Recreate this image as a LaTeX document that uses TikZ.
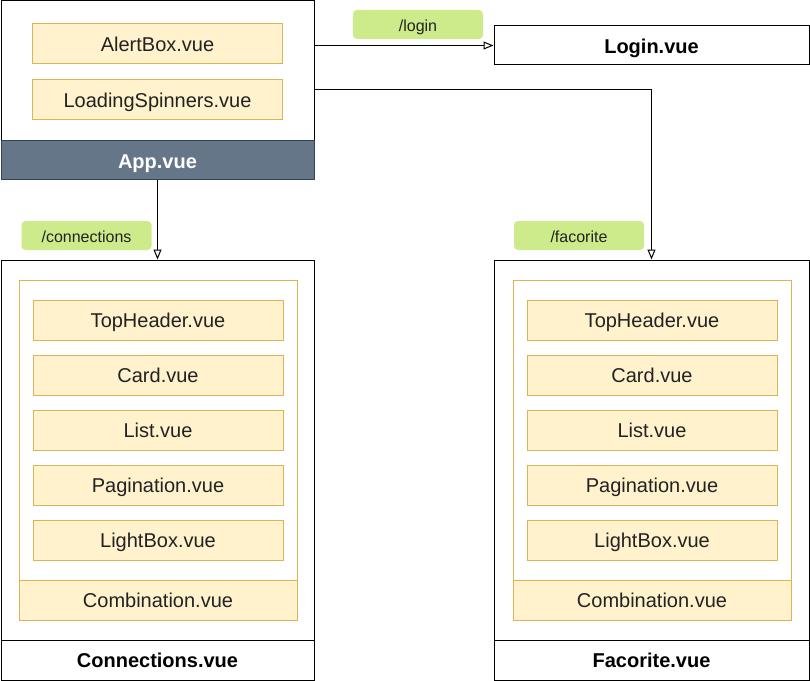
\documentclass[tikz,border=0pt]{standalone}
\usepackage{fontspec}
\setmainfont{Liberation Sans}
\usepackage{tikz}
\usetikzlibrary{arrows.meta}

\begin{document}
\begin{tikzpicture}[x=0.75pt,y=-0.75pt,
  frame/.style={draw=black,fill=white,line width=0.75pt,inner sep=0pt},
  group/.style={draw=itemdraw,fill=white,line width=0.75pt,inner sep=0pt,
    minimum width=208.5pt,minimum height=255pt},
  item/.style={draw=itemdraw,fill=itemfill,line width=0.75pt,inner sep=0pt,
    minimum width=187.5pt,minimum height=30pt,text=textcolor,
    text height=1.2em,text depth=0.06em,font=\fontsize{15}{18}\selectfont},
  combo/.style={item,minimum width=208.5pt},
  title/.style={frame,minimum height=29.25pt,text height=1.2em,text depth=0.06em,
    font=\fontsize{15}{18}\selectfont\bfseries},
  route/.style={fill=routefill,rounded corners=3pt,inner sep=0pt,
    minimum width=97.5pt,minimum height=21.75pt,text=textcolor,
    text height=1.1em,text depth=0.06em,font=\fontsize{12}{14}\selectfont},
  link/.style={draw=black,line width=0.75pt,-{Triangle[open,length=7.5pt,width=6pt]}}]
\definecolor{itemfill}{RGB}{255,242,204}
\definecolor{itemdraw}{RGB}{214,182,86}
\definecolor{routefill}{RGB}{205,235,139}
\definecolor{headfill}{RGB}{100,118,135}
\definecolor{headdraw}{RGB}{49,67,84}
\definecolor{textcolor}{RGB}{34,34,34}
\useasboundingbox (0,0) rectangle (810,681);
% App
\node[frame,minimum width=234.75pt,minimum height=134.25pt] (app) at (157.5,90.5) {};
\node[item] (alert) at (157.5,44) {AlertBox.vue};
\node[item] (loading) at (157.5,100) {LoadingSpinners.vue};
\node[title,fill=headfill,draw=headdraw,text=white,minimum width=234.75pt] (apphead) at (157.5,160.5) {App.vue};
% Login
\node[title,minimum width=236.25pt] (login) at (651.5,45.5) {Login.vue};
% Connections
\node[frame,minimum width=234.75pt,minimum height=315pt] (conn) at (157.5,470) {};
\node[title,minimum width=234.75pt,minimum height=30pt] (connfoot) at (157.5,660) {Connections.vue};
\node[group] (conngroup) at (158,450) {};
\node[item] (conn1) at (158,320) {TopHeader.vue};
\node[item] (conn2) at (158,375) {Card.vue};
\node[item] (conn3) at (158,430) {List.vue};
\node[item] (conn4) at (158,485) {Pagination.vue};
\node[item] (conn5) at (158,540) {LightBox.vue};
\node[combo] (conncombo) at (158,600) {Combination.vue};
% Facorite
\node[frame,minimum width=236.25pt,minimum height=315pt] (fav) at (651.5,470) {};
\node[title,minimum width=236.25pt,minimum height=30pt] (favfoot) at (651.5,660) {Facorite.vue};
\node[group] (favgroup) at (652,450) {};
\node[item] (fav1) at (652,320) {TopHeader.vue};
\node[item] (fav2) at (652,375) {Card.vue};
\node[item] (fav3) at (652,430) {List.vue};
\node[item] (fav4) at (652,485) {Pagination.vue};
\node[item] (fav5) at (652,540) {LightBox.vue};
\node[combo] (favcombo) at (652,600) {Combination.vue};
% routes
\node[route] (loginroute) at (418,24.5) {/login};
\node[route] (connroute) at (86.5,235.5) {/connections};
\node[route] (favroute) at (579,235.5) {/facorite};
\coordinate (favturn) at (651.5,90);
\draw[link] (app.east |- login.west) -- (login.west);
\draw[link] (app.east |- favturn) -- (favturn) -- (fav.north);
\draw[link] (apphead.south) -- (conn.north);
\end{tikzpicture}
\end{document}
